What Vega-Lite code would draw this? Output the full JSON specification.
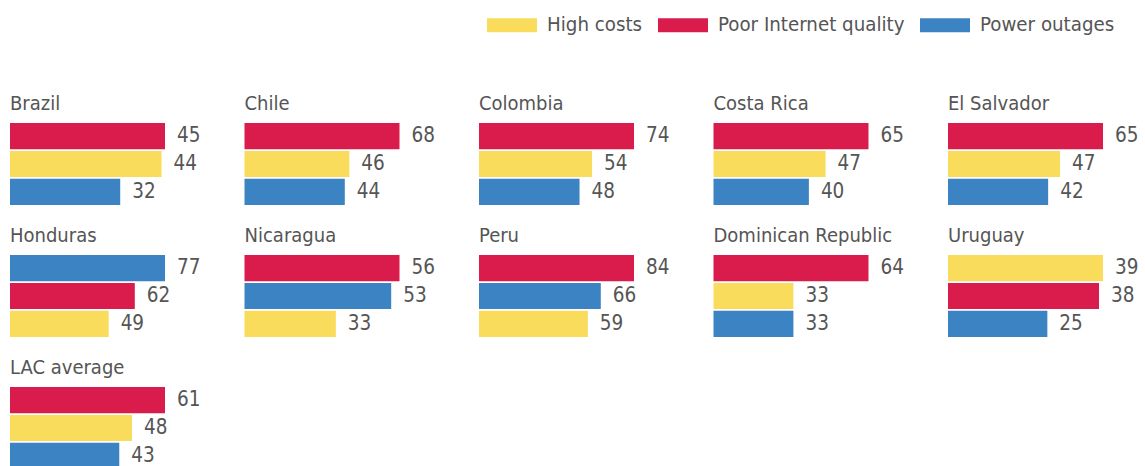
{
  "$schema": "https://vega.github.io/schema/vega-lite/v6.json",
  "background": "white",
  "padding": {"left": 10, "top": 0, "right": 0, "bottom": 0},
  "data": {"values": [
    {"country": "Brazil", "cause": "Poor Internet quality", "value": 45},
    {"country": "Brazil", "cause": "High costs", "value": 44},
    {"country": "Brazil", "cause": "Power outages", "value": 32},
    {"country": "Chile", "cause": "Poor Internet quality", "value": 68},
    {"country": "Chile", "cause": "High costs", "value": 46},
    {"country": "Chile", "cause": "Power outages", "value": 44},
    {"country": "Colombia", "cause": "Poor Internet quality", "value": 74},
    {"country": "Colombia", "cause": "High costs", "value": 54},
    {"country": "Colombia", "cause": "Power outages", "value": 48},
    {"country": "Costa Rica", "cause": "Poor Internet quality", "value": 65},
    {"country": "Costa Rica", "cause": "High costs", "value": 47},
    {"country": "Costa Rica", "cause": "Power outages", "value": 40},
    {"country": "El Salvador", "cause": "Poor Internet quality", "value": 65},
    {"country": "El Salvador", "cause": "High costs", "value": 47},
    {"country": "El Salvador", "cause": "Power outages", "value": 42},
    {"country": "Honduras", "cause": "Power outages", "value": 77},
    {"country": "Honduras", "cause": "Poor Internet quality", "value": 62},
    {"country": "Honduras", "cause": "High costs", "value": 49},
    {"country": "Nicaragua", "cause": "Poor Internet quality", "value": 56},
    {"country": "Nicaragua", "cause": "Power outages", "value": 53},
    {"country": "Nicaragua", "cause": "High costs", "value": 33},
    {"country": "Peru", "cause": "Poor Internet quality", "value": 84},
    {"country": "Peru", "cause": "Power outages", "value": 66},
    {"country": "Peru", "cause": "High costs", "value": 59},
    {"country": "Dominican Republic", "cause": "Poor Internet quality", "value": 64},
    {"country": "Dominican Republic", "cause": "High costs", "value": 33},
    {"country": "Dominican Republic", "cause": "Power outages", "value": 33},
    {"country": "Uruguay", "cause": "High costs", "value": 39},
    {"country": "Uruguay", "cause": "Poor Internet quality", "value": 38},
    {"country": "Uruguay", "cause": "Power outages", "value": 25},
    {"country": "LAC average", "cause": "Poor Internet quality", "value": 61},
    {"country": "LAC average", "cause": "High costs", "value": 48},
    {"country": "LAC average", "cause": "Power outages", "value": 43}
  ]},
  "facet": {
    "field": "country",
    "type": "nominal",
    "sort": ["Brazil", "Chile", "Colombia", "Costa Rica", "El Salvador", "Honduras", "Nicaragua", "Peru", "Dominican Republic", "Uruguay", "LAC average"],
    "header": {
      "title": null,
      "labelAnchor": "start",
      "labelAlign": "left",
      "labelFontSize": 20,
      "labelColor": "#555555",
      "labelFont": "DejaVu Sans Condensed, DejaVu Sans",
      "labelPadding": 9
    }
  },
  "columns": 5,
  "spacing": {"column": 43.5, "row": 21},
  "spec": {
    "width": 155,
    "height": 82,
    "encoding": {
      "y": {"field": "cause", "type": "nominal", "sort": "-x", "axis": null, "scale": {"paddingInner": 0.06, "paddingOuter": 0}},
      "x": {"field": "value", "type": "quantitative", "axis": null, "scale": {"nice": false, "zero": true}}
    },
    "layer": [
      {
        "mark": {"type": "bar"},
        "encoding": {
          "color": {
            "field": "cause",
            "type": "nominal",
            "scale": {"domain": ["High costs", "Poor Internet quality", "Power outages"], "range": ["#F9DC5C", "#D91C4B", "#3C83C4"]},
            "legend": {
              "orient": "none",
              "direction": "horizontal",
              "legendX": 477,
              "legendY": -123,
              "title": null,
              "symbolType": "M-1,-0.28L1,-0.28L1,0.28L-1,0.28Z",
              "symbolSize": 2500,
              "symbolStrokeWidth": 0,
              "symbolOpacity": 1,
              "labelFontSize": 20.3,
              "labelColor": "#555555",
              "labelFont": "DejaVu Sans Condensed, DejaVu Sans",
              "labelOffset": 10,
              "columnPadding": 15,
              "labelLimit": 400,
              "encode": {
                "symbols": {
                  "update": {
                    "fill": {"signal": "datum.value === 'Poor Internet quality' ? '#E30613' : scale('color', datum.value)"}
                  }
                }
              }
            }
          }
        }
      },
      {
        "mark": {"type": "text", "align": "left", "baseline": "middle", "dx": 12, "fontSize": 20.5, "color": "#555555", "font": "DejaVu Sans Condensed, DejaVu Sans"},
        "encoding": {"text": {"field": "value", "type": "quantitative"}}
      }
    ]
  },
  "resolve": {"scale": {"x": "independent", "y": "independent"}},
  "config": {"view": {"stroke": null}}
}
